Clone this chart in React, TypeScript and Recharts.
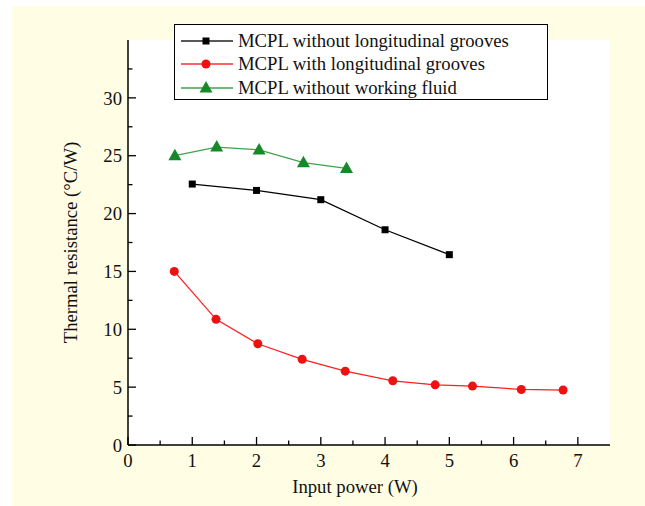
import { CartesianGrid, Label, Legend, Line, LineChart, XAxis, YAxis } from "recharts";

// input power (W) / thermal resistance (°C/W)
const noGroovePower = [1, 2, 3, 4, 5];
const noGrooveResistance = [22.55, 22.0, 21.2, 18.6, 16.45];

const groovePower = [0.72, 1.37, 2.02, 2.71, 3.38, 4.12, 4.78, 5.36, 6.12, 6.77];
const grooveResistance = [15.0, 10.86, 8.75, 7.41, 6.38, 5.55, 5.2, 5.09, 4.8, 4.75];

const noFluidPower = [0.73, 1.38, 2.04, 2.73, 3.4];
const noFluidResistance = [25.0, 25.75, 25.5, 24.4, 23.9];

const xTicks = [0, 0.5, 1, 1.5, 2, 2.5, 3, 3.5, 4, 4.5, 5, 5.5, 6, 6.5, 7];
const yTicks = [0, 2.5, 5, 7.5, 10, 12.5, 15, 17.5, 20, 22.5, 25, 27.5, 30, 32.5];

const seriesNames = [
  "MCPL without longitudinal grooves",
  "MCPL with longitudinal grooves",
  "MCPL without working fluid",
];

const toRows = (xs: number[], ys: number[]) => xs.map((x, i) => ({ x, y: ys[i] }));

const FONT = "'Liberation Serif', 'Times New Roman', serif";
const FS = 18.7;

const Square = (p: any) => (
  <rect key={`s${p.index}`} x={p.cx - 3.5} y={p.cy - 3.5} width={7} height={7} fill="#000" />
);
const Circle = (p: any) => (
  <circle key={`c${p.index}`} cx={p.cx} cy={p.cy} r={4.5} fill="#ee1111" />
);
const Triangle = (p: any) => (
  <path
    key={`t${p.index}`}
    d={`M${p.cx},${p.cy - 7} L${p.cx + 6.5},${p.cy + 4.5} L${p.cx - 6.5},${p.cy + 4.5} Z`}
    fill="#17892b"
  />
);

const XTick = (props: any) => {
  const { x, y, payload } = props;
  const major = Number.isInteger(payload.value);
  const base = y - 7;
  return (
    <g>
      <line x1={x} x2={x} y1={base} y2={base - (major ? 8 : 4.5)} stroke="#000" strokeWidth={1.3} />
      {major && (
        <text x={x} y={y} dy="0.8em" textAnchor="middle" fontFamily={FONT} fontSize={FS} fill="#111">
          {payload.value}
        </text>
      )}
    </g>
  );
};

const YTick = (props: any) => {
  const { x, y, payload } = props;
  const major = payload.value % 5 === 0;
  const base = x + 6;
  return (
    <g>
      <line x1={base} x2={base + (major ? 8 : 4.5)} y1={y} y2={y} stroke="#000" strokeWidth={1.3} />
      {major && (
        <text x={x} y={y} dy="0.36em" textAnchor="end" fontFamily={FONT} fontSize={FS} fill="#111">
          {payload.value}
        </text>
      )}
    </g>
  );
};

const LegendBox = () => {
  const lineColors = ["#222", "#ff3030", "#3fa34d"];
  const markers = [
    <rect x={21.5} y={6.5} width={7} height={7} fill="#000" />,
    <circle cx={25} cy={10} r={4.5} fill="#ee1111" />,
    <path d="M25,3 L31.5,14.5 L18.5,14.5 Z" fill="#17892b" />,
  ];
  return (
    <div
      style={{
        width: 374,
        height: 76,
        boxSizing: "border-box",
        border: "1.5px solid #000",
        background: "#fff",
        paddingTop: 4,
        fontFamily: FONT,
        fontSize: FS,
        color: "#111",
      }}
    >
      {seriesNames.map((name, i) => (
        <div key={name} style={{ display: "flex", alignItems: "center", height: 23.5 }}>
          <svg width={56} height={20} style={{ marginLeft: 6, flex: "none" }}>
            <line x1={0} x2={52} y1={10} y2={10} stroke={lineColors[i]} strokeWidth={1.5} />
            {markers[i]}
          </svg>
          <span style={{ marginLeft: 1, whiteSpace: "nowrap" }}>{name}</span>
        </div>
      ))}
    </div>
  );
};

export default function App() {
  return (
    <div style={{ position: "absolute", left: 0, top: 0, width: 645, height: 506 }}>
      <div style={{ position: "absolute", left: 12, top: 6, right: 0, bottom: 0, background: "#fffde4" }} />
      <div style={{ position: "absolute", left: 0, top: 0 }}>
        <LineChart width={645} height={506} margin={{ top: 40, right: 35, left: 0, bottom: 0 }}>
          <CartesianGrid horizontal={false} vertical={false} fill="#fff" />
          <XAxis
            xAxisId="b"
            type="number"
            dataKey="x"
            domain={[0, 7.5]}
            ticks={xTicks}
            interval={0}
            height={61}
            tickSize={0}
            tickMargin={7}
            tickLine={false}
            tick={<XTick />}
            axisLine={{ stroke: "#000", strokeWidth: 1.5 }}
          >
            <Label
              value="Input power (W)"
              position="insideBottom"
              offset={13}
              dx={-14}
              style={{ fontFamily: FONT, fontSize: FS, fill: "#111" }}
            />
          </XAxis>
          <XAxis
            xAxisId="t"
            orientation="top"
            type="number"
            dataKey="x"
            domain={[0, 7.5]}
            height={0}
            tick={false}
            tickLine={false}
            axisLine={{ stroke: "#000", strokeWidth: 1.5 }}
          />
          <YAxis
            yAxisId="l"
            type="number"
            domain={[0, 35]}
            ticks={yTicks}
            interval={0}
            width={128}
            tickSize={0}
            tickMargin={6}
            tickLine={false}
            tick={<YTick />}
            axisLine={{ stroke: "#000", strokeWidth: 1.5 }}
          >
            <Label
              content={(p: any) => {
                const vb = p.viewBox;
                const cx = 70;
                const cy = vb.y + vb.height / 2;
                return (
                  <text
                    x={cx}
                    y={cy}
                    transform={`rotate(-90 ${cx} ${cy})`}
                    textAnchor="middle"
                    dominantBaseline="central"
                    fontFamily={FONT}
                    fontSize={FS}
                    fill="#111"
                  >
                    Thermal resistance (°C/W)
                  </text>
                );
              }}
            />
          </YAxis>
          <YAxis
            yAxisId="r"
            orientation="right"
            type="number"
            domain={[0, 35]}
            width={0}
            tick={false}
            tickLine={false}
            axisLine={{ stroke: "#000", strokeWidth: 1.5 }}
          />
          <Legend
            layout="horizontal"
            verticalAlign="middle"
            align="center"
            content={<LegendBox />}
            wrapperStyle={{ left: 174, top: 24, width: 374, height: 76 }}
          />
          <Line
            xAxisId="b"
            yAxisId="l"
            name={seriesNames[0]}
            data={toRows(noGroovePower, noGrooveResistance)}
            dataKey="y"
            stroke="#000"
            strokeWidth={1.3}
            dot={Square}
            activeDot={false}
            isAnimationActive={false}
          />
          <Line
            xAxisId="b"
            yAxisId="l"
            name={seriesNames[1]}
            data={toRows(groovePower, grooveResistance)}
            dataKey="y"
            stroke="#ff2020"
            strokeWidth={1.3}
            dot={Circle}
            activeDot={false}
            isAnimationActive={false}
          />
          <Line
            xAxisId="b"
            yAxisId="l"
            name={seriesNames[2]}
            data={toRows(noFluidPower, noFluidResistance)}
            dataKey="y"
            stroke="#3fa34d"
            strokeWidth={1.3}
            dot={Triangle}
            activeDot={false}
            isAnimationActive={false}
          />
        </LineChart>
      </div>
    </div>
  );
}
